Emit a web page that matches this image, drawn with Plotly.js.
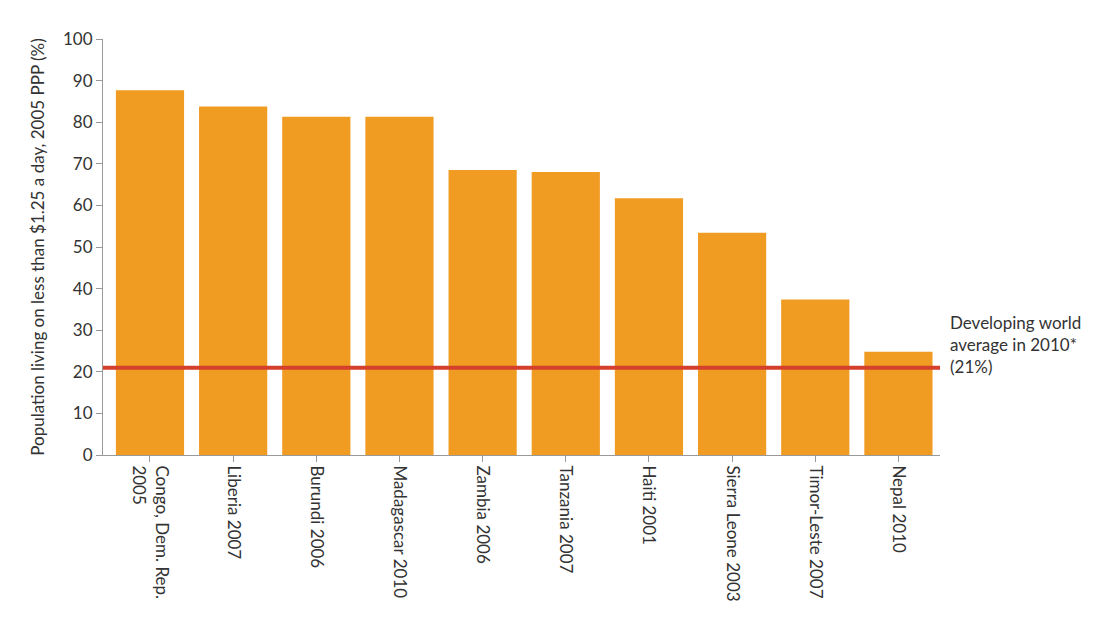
<!DOCTYPE html>
<html><head><meta charset="utf-8">
<script src="https://cdn.plot.ly/plotly-3.0.1.min.js"></script>
<style>body{margin:0;background:#fff}</style></head>
<body><div id="c" style="width:1115px;height:641px"></div>
<script>
const categories = ["Congo, Dem. Rep.<br>2005","Liberia 2007","Burundi 2006","Madagascar 2010","Zambia 2006","Tanzania 2007","Haiti 2001","Sierra Leone 2003","Timor-Leste 2007","Nepal 2010"];
const values = [87.7, 83.8, 81.3, 81.3, 68.5, 68.0, 61.7, 53.4, 37.4, 24.8];
const worldAverage = 21;
const yTicks = [0,10,20,30,40,50,60,70,80,90,100];
const idx = categories.map((_, i) => i);
const xr = [-0.565, categories.length-0.5];
Plotly.newPlot('c', [
  {type:'bar', x: idx, y: values, marker:{color:'#F09B22'}, width:0.82, hoverinfo:'y'},
  {type:'scatter', mode:'lines', x:xr, y:[worldAverage, worldAverage], line:{color:'#D4402B', width:4}}
], {
  width:1115, height:641, showlegend:false,
  margin:{l:103, r:175, t:39, b:186},
  paper_bgcolor:'#fff', plot_bgcolor:'#fff',
  font:{family:'Lato, sans-serif', size:17, color:'#333'},
  xaxis:{range:xr, tickvals:idx, ticktext:categories, tickangle:90,
    showline:true, linecolor:'#999', ticks:'outside', ticklen:6, tickcolor:'#999', showgrid:false, zeroline:false,
    tickfont:{size:17, color:'#333'}},
  yaxis:{range:[0,100], tickvals:yTicks, showline:true, linecolor:'#999', ticks:'outside', ticklen:6, tickcolor:'#999',
    showgrid:false, zeroline:false, tickfont:{size:17,color:'#333'},
    title:{text:'Population living on less than $1.25 a day, 2005 PPP (%)', font:{size:17,color:'#333'}, standoff:14}},
  annotations:[{xref:'paper', yref:'y', x:1.01, y:worldAverage+5.5, xanchor:'left', yanchor:'middle', align:'left', showarrow:false,
    text:'Developing world<br>average in 2010*<br>(21%)', font:{size:17,color:'#333'}}]
}, {displayModeBar:false});
</script></body></html>
